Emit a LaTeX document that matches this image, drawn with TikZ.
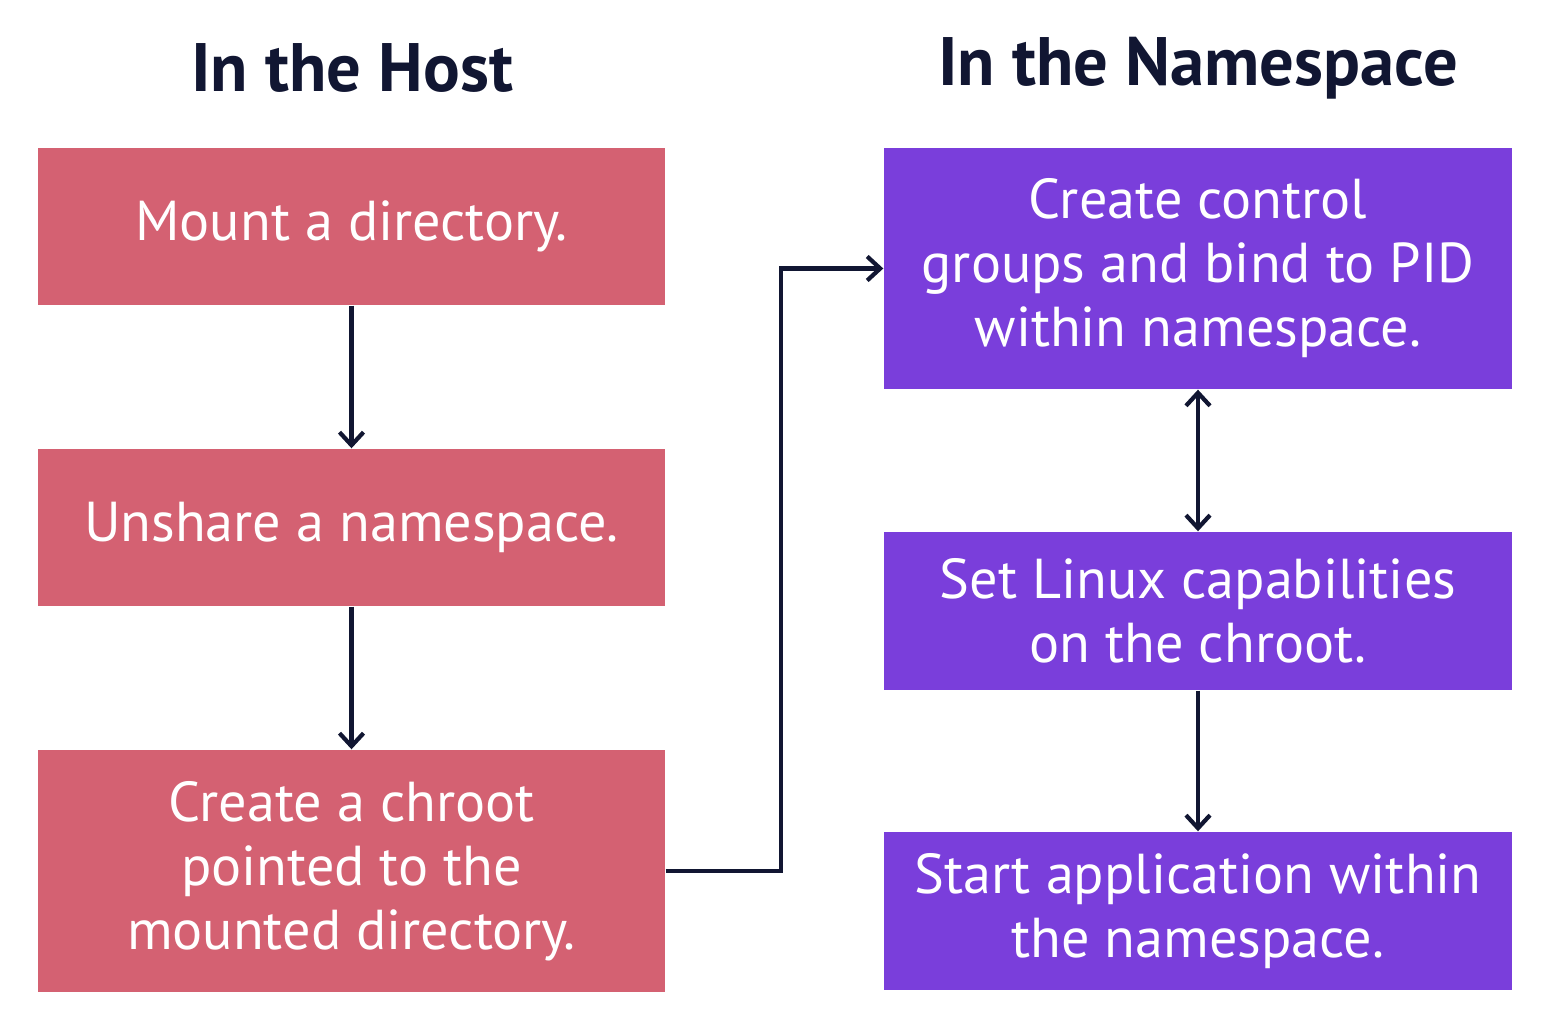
\documentclass[tikz,border=0pt]{standalone}
\usepackage{fontspec}
\setmainfont{PT Sans}
\usepackage{xcolor}
\usetikzlibrary{positioning,arrows.meta}

\definecolor{hostred}{HTML}{D46172}
\definecolor{nspurple}{HTML}{7A3EDB}
\definecolor{linknavy}{HTML}{111632}

\tikzset{
    hostbox/.style={fill=hostred, text=white, minimum width=6.27cm,
        inner sep=0pt, align=center, font=\fontsize{16}{18.2}\selectfont},
    nsbox/.style={fill=nspurple, text=white, minimum width=6.28cm,
        inner sep=0pt, align=center, font=\fontsize{16}{18.2}\selectfont},
    link/.style={linknavy, line width=1.2pt, -{Straight Barb[length=1.3mm,width=2.4mm]}},
    title/.style={font=\fontsize{19.5}{24}\selectfont\bfseries, text=linknavy}
}

\begin{document}
\begin{tikzpicture}
    % frame
    \useasboundingbox (0,0) rectangle (15.64,-10.2);

    % headings
    \node[title] (hosttitle) at (3.52,-0.68) {In the Host};
    \node[title] (nstitle) at (11.98,-0.68) {In the Namespace};

    % host steps
    \node[hostbox, minimum height=1.57cm] (mount) at (3.515,-2.265) {Mount a directory.};
    \node[hostbox, minimum height=1.57cm] (unshare) at (3.515,-5.275) {Unshare a namespace.};
    \node[hostbox, minimum height=2.42cm] (chroot) at (3.515,-8.71)
        {Create a chroot\\pointed to the\\mounted directory.};

    % namespace steps
    \node[nsbox, minimum height=2.41cm] (cgroups) at (11.98,-2.685)
        {Create control\\groups and bind to PID\\within namespace.};
    \node[nsbox, minimum height=1.58cm] (caps) at (11.98,-6.11)
        {Set Linux capabilities\\on the chroot.};
    \node[nsbox, minimum height=1.58cm] (start) at (11.98,-9.11)
        {Start application within\\the namespace.};

    % connectors
    \draw[link] (mount) -- (unshare);
    \draw[link] (unshare) -- (chroot);
    \draw[link] (chroot.east) -- ++(1.15,0) |- (cgroups.west);
    \draw[link, {Straight Barb[length=1.3mm,width=2.4mm]}-{Straight Barb[length=1.3mm,width=2.4mm]}]
        (cgroups) -- (caps);
    \draw[link] (caps) -- (start);
\end{tikzpicture}
\end{document}
